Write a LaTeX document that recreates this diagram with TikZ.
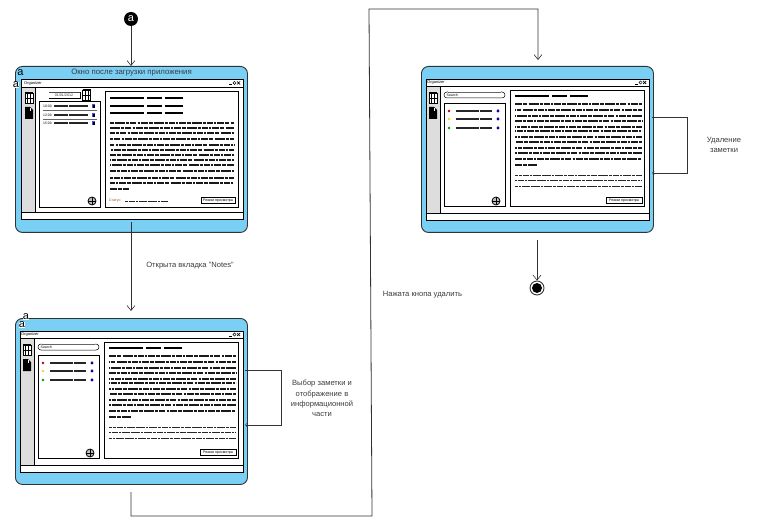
\documentclass[tikz,border=0pt]{standalone}
\usepackage{fontspec}
\setmainfont{Liberation Sans}
\usetikzlibrary{arrows.meta}
\definecolor{skyb}{RGB}{122,207,245}
\definecolor{sideg}{RGB}{221,221,221}
\definecolor{linec}{RGB}{50,50,50}
\definecolor{labelc}{RGB}{60,60,60}
\tikzset{
 conn/.style={draw=linec,line width=.8pt},
 arr/.style={conn,-{Straight Barb[length=5pt,width=8pt,line width=.6pt]}},
 outerbox/.style={draw=linec,line width=.9pt,fill=skyb,rounded corners=7pt,minimum width=232pt,minimum height=166pt,anchor=north west,inner sep=0pt},
 winbox/.style={draw=black,line width=.9pt,fill=white},
 sidebox/.style={draw=black,line width=.7pt,fill=sideg},
 panelbox/.style={draw=black,line width=.9pt,fill=white},
 btnbox/.style={draw=black,line width=.6pt,fill=white,inner sep=0pt,font=\fontsize{3.6pt}{4pt}\selectfont,minimum height=6.5pt},
 gbody/.style={line width=1.1pt,black!90,dash pattern=on 7pt off 1pt on 4pt off 1.2pt on 10pt off 1pt on 3pt off 1pt on 6pt off 1.2pt on 2pt off 1pt},
 gthin/.style={line width=.8pt,black!85,dash pattern=on 3pt off .8pt on 6pt off 1pt on 2pt off .8pt on 8pt off 1pt},
 ghead/.style={line width=1.7pt,black,dash pattern=on 34pt off 3pt on 15pt off 3pt on 18pt off 3pt},
 gitem/.style={line width=1.7pt,black!85,dash pattern=on 14pt off .5pt on 9pt off .5pt on 13pt off .5pt},
 tiny/.style={font=\fontsize{4pt}{5pt}\selectfont,inner sep=0pt},
 lab/.style={font=\fontsize{7.6pt}{10.3pt}\selectfont,text=labelc,align=center,inner sep=0pt},
 stray/.style={font=\fontsize{11pt}{11pt}\selectfont,inner sep=.4pt,text=black},
}
\newcommand{\calicon}[2]{%
 \draw[black,line width=.5pt,fill=white] (#1-4,#2-5) rectangle (#1+4,#2+5);
 \draw[black,line width=1.2pt] (#1-4,#2-5) -- (#1+4,#2-5);
 \foreach \q in {-1.5,1.5} \draw[black,line width=.5pt] (#1+\q,#2-5) -- (#1+\q,#2+5);
 \draw[black,line width=.5pt] (#1-4,#2) -- (#1+4,#2);}
\newcommand{\docicon}[2]{%
 \fill[black] (#1-4,#2-6) -- (#1+1,#2-6) -- (#1+4,#2-3) -- (#1+4,#2+6) -- (#1-4,#2+6) -- cycle;
 \fill[white] (#1+.5,#2-5) rectangle (#1+1.8,#2-2);}
\newcommand{\plusicon}[2]{%
 \draw[black,line width=.8pt,fill=gray!50] (#1,#2) circle (4pt);
 \draw[black,line width=.8pt] (#1-4,#2) -- (#1+4,#2) (#1,#2-4) -- (#1,#2+4);}
\newcommand{\smallicon}[3]{\fill[#3] (#1-1.5,#2-2) rectangle (#1+1.5,#2+2);\fill[black] (#1-.5,#2-1) rectangle (#1+1.5,#2+2);}
\newcommand{\winctl}[2]{%
 \draw[black,line width=.8pt] (#1-10,#2+1.5) -- (#1-7,#2+1.5);
 \draw[black,line width=.5pt] (#1-4.5,#2) circle (1.6pt);
 \draw[black,line width=.7pt] (#1-2,#2-1.5) -- (#1+1,#2+1.5) (#1-2,#2+1.5) -- (#1+1,#2-1.5);}
\newcommand{\screenB}[3]{%
 \begin{scope}[shift={(#2,#3)}]
  \node[outerbox] (#1) at (0,0) {};
  \draw[winbox] (5,13) rectangle (228,154);
  \draw[black,line width=.7pt] (5,20) -- (228,20);
  \node[tiny,anchor=west] (#1title) at (6,16.5) {Organizer};
  \winctl{224}{16.5}
  \draw[sidebox] (5,20) rectangle (19,147);
  \draw[black,line width=.9pt] (5,147) -- (228,147);
  \calicon{12}{32}
  \docicon{12}{47}
  \draw[black,line width=.5pt,rounded corners=3pt] (27,26) -- (23,26) -- (23,32) -- (84,32) -- (84,26) -- (80,26);
  \draw[black!60,line width=.4pt] (27,26) -- (80,26);
  \node[tiny,anchor=west,font=\fontsize{3.5pt}{4pt}\selectfont] (#1search) at (25.5,29) {Search};
  \draw[panelbox] (23,37) rectangle (84,140);
  \draw[panelbox] (89,24) rectangle (223,140);
  \foreach \yy/\cc in {45/red!70!black,53/yellow!90!black,62/green!60!black}{
   \fill[\cc] (28,\yy) circle (1.3pt);
   \draw[gitem] (34.5,\yy) -- (71,\yy);
   \fill[blue!70!black] (77,\yy) circle (1.7pt);
   \fill[orange!80!black] (77,\yy-1.3) circle (.7pt);
  }
  \plusicon{75}{135}
  \draw[ghead] (94,30) -- (169,30);
  \foreach \yy in {38,44,50,55,61,65,71,76,82,87,93}
   \draw[gbody,dash phase=\yy pt] (94,\yy) -- (221,\yy);
  \draw[gbody] (94,99) -- (116,99);
  \foreach \yy in {109,114,120}
   \draw[gthin,dash phase=\yy pt] (94,\yy) -- (221,\yy);
  \node[btnbox,minimum width=36pt,anchor=center] (#1btn) at (203,134.5) {Режим просмотра};
 \end{scope}}
\begin{document}
\begin{tikzpicture}[x=1pt,y=-1pt]
\useasboundingbox (0,0) rectangle (759,526);

\coordinate (c1out) at (131,222);
\coordinate (c1in)  at (131,311);
\coordinate (c2out) at (131,492);
\coordinate (c2a)   at (131,516);
\coordinate (c2b)   at (372,516);
\coordinate (c2c)   at (369,9);
\coordinate (c2d)   at (538,9);
\coordinate (c2in)  at (538,60);
\coordinate (c3out) at (537,240);

% screen 1
\node[outerbox] (s1) at (15,66) {};
\draw[winbox] (21,79) rectangle (243,219);
\node[tiny,anchor=west] (s1title) at (24,83) {Organizer};
\winctl{239}{83}
\draw[black,line width=.7pt] (21,87) -- (243,87);
\draw[sidebox] (21,87) rectangle (35,212);
\draw[black,line width=.9pt] (21,212) -- (243,212);
\calicon{29}{98}
\docicon{29}{113}
\draw[black!70,line width=.5pt] (49,92) -- (80,92);
\draw[black,line width=.7pt] (49,98) -- (80,98) -- (80,92);
\node[tiny,font=\fontsize{3.6pt}{4pt}\selectfont,text=black!80] (s1date) at (64,95) {01/01/2012};
\calicon{86.5}{95}
\draw[panelbox] (39,101) rectangle (100,207);
\draw[panelbox] (105,91) rectangle (238,207);
\foreach \yy/\tt in {106/10:00,115/12:00,123/15:00}{
  \node[tiny,font=\fontsize{3.4pt}{4pt}\selectfont,anchor=west] at (43,\yy) {\tt};
  \draw[gitem] (54,\yy) -- (88,\yy);
  \smallicon{93}{\yy}{blue!70}
}
\draw[black!60,line width=.4pt] (43,110.5) -- (97,110.5);
\draw[black!60,line width=.4pt] (43,119.5) -- (97,119.5);
\plusicon{92}{201}
\foreach \yy in {98,106,113}
  \draw[ghead] (110,\yy) -- (183,\yy);
\foreach \yy in {123,128,133,139,145,150,155,160,165,171,178,183}
  \draw[gbody,dash phase=\yy pt] (110,\yy) -- (234,\yy);
\draw[gbody] (110,189) -- (129,189);
\node[tiny,font=\fontsize{3.5pt}{4pt}\selectfont,anchor=west,text=orange!60!black] (s1status) at (109,201) {Статус:};
\draw[gthin] (125,201) -- (168,201);
\node[btnbox,minimum width=34pt] (s1btn) at (218,200.5) {Режим просмотра};
\node[lab,font=\fontsize{7.8pt}{10pt}\selectfont] (s1cap) at (131.5,73) {Окно после загрузки приложения};
\node[stray] (s1a) at (20.5,73) {a};
\node[stray,fill=white] (s1b) at (16,85) {a};

% screens 2 and 3
\screenB{s2}{15}{318}
\screenB{s3}{421}{66}
\node[stray,fill=white,inner sep=0pt] (s2a) at (26,317) {a};
\node[stray,fill=white,inner sep=0pt] (s2b) at (22,325) {a};

% start and end
\node[circle,fill=black,minimum size=14pt,inner sep=0pt] (start) at (131,19) {};
\node[inner sep=0pt,text=white,font=\fontsize{11pt}{11pt}\selectfont] (starta) at (131,18.5) {a};
\node[circle,draw=linec,line width=.9pt,minimum size=14pt,inner sep=0pt] (final) at (537,288) {};
\fill[black] (final.center) circle (5pt);

% connectors
\draw[arr] (start) -- (s1.north -| start);
\draw[arr] (c1out) -- (c1in);
\draw[arr] (c2out) -- (c2a) -- (c2b) -- (c2c) -- (c2d) -- (c2in);
\draw[arr] (c3out) -- (final);
\coordinate (l2a) at (245,370);
\coordinate (l2b) at (281,370);
\coordinate (l2c) at (281,425);
\coordinate (l2d) at (245,425);
\draw[conn,-{Straight Barb[length=2pt,width=4pt,line width=.5pt]}] (l2a) -- (l2b) -- (l2c) -- (l2d);
\coordinate (l3a) at (652,117);
\coordinate (l3b) at (687,117);
\coordinate (l3c) at (687,173);
\coordinate (l3d) at (652,173);
\draw[conn,-{Straight Barb[length=2pt,width=4pt,line width=.5pt]}] (l3a) -- (l3b) -- (l3c) -- (l3d);

% labels
\node[lab] (t1) at (190,266) {Открыта вкладка "Notes"};
\node[lab] (t2) at (422.5,295) {Нажата кнопа удалить};
\node[lab] (t3) at (322,398.5) {Выбор заметки и\\отображение в\\информационной\\части};
\node[lab] (t4) at (724,145) {Удаление\\заметки};
\end{tikzpicture}
\end{document}
